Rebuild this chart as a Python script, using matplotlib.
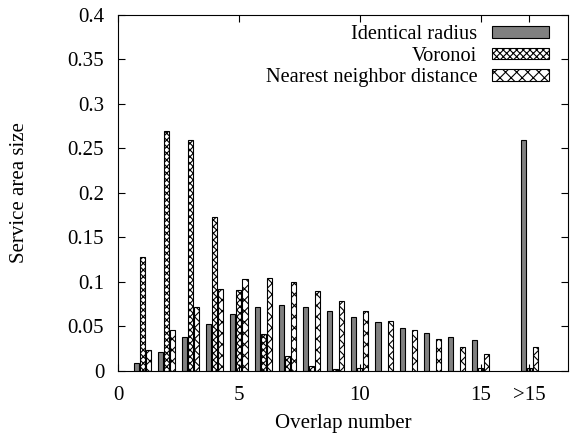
import numpy as np
from matplotlib import pyplot as plt

plt.rcParams['font.family'] = ['Liberation Serif', 'DejaVu Serif']
plt.rcParams['hatch.linewidth'] = 0.8

# overlap number groups (">15" drawn at position 17)
positions = [1, 2, 3, 4, 5, 6, 7, 8, 9, 10, 11, 12, 13, 14, 15, 17]
tick_pos = [0, 5, 10, 15, 17]
tick_labels = ['0', '5', '10', '15', '>15']

identical = [0.0086, 0.0217, 0.038, 0.0528, 0.0644, 0.0716, 0.0738, 0.0716,
             0.0678, 0.061, 0.055, 0.0483, 0.0423, 0.0382, 0.0345, 0.259]
voronoi = [0.128, 0.27, 0.26, 0.1727, 0.091, 0.0416, 0.0169, 0.006,
           0.0026, 0.003, 0.0, 0.0, 0.0, 0.0, 0.003, 0.003]
nearest = [0.024, 0.046, 0.0723, 0.0925, 0.103, 0.105, 0.0996, 0.0895,
           0.0783, 0.067, 0.0565, 0.0457, 0.0356, 0.0273, 0.019, 0.0266]

fig = plt.figure(figsize=(5.73, 4.38), dpi=100)
ax = fig.add_axes([0.206, 0.153, 0.785, 0.813])

x = np.array(positions, dtype=float)
w = 0.21
ax.bar(x - 0.25, identical, w, color='#808080', edgecolor='black', linewidth=0.8,
       label='Identical radius')
ax.bar(x, voronoi, w, color='white', edgecolor='black', linewidth=0.8,
       hatch='xxxxx', label='Voronoi')
ax.bar(x + 0.25, nearest, w, color='white', edgecolor='black', linewidth=0.8,
       hatch='xxx', label='Nearest neighbor distance')

ax.set_xlim(0, 18.6)
ax.set_ylim(0, 0.4)
ax.set_xticks(tick_pos)
ax.set_xticklabels(tick_labels)
ax.set_yticks(np.arange(0, 0.41, 0.05))
ax.set_yticklabels(['0', '0.05', '0.1', '0.15', '0.2', '0.25', '0.3', '0.35', '0.4'])
ax.tick_params(direction='in', top=True, right=True, length=5, width=0.8,
               labelsize=15)
ax.tick_params(axis='y', pad=10)
ax.tick_params(axis='x', pad=11)
for s in ax.spines.values():
    s.set_linewidth(0.8)

ax.set_xlabel('Overlap number', fontsize=15, labelpad=6)
ax.set_ylabel('Service area size', fontsize=15, labelpad=28)

ax.legend(loc='upper right', bbox_to_anchor=(1 - 7 / 450, 1 + 2 / 356),
          frameon=False, markerfirst=False, fontsize=14.7,
          handlelength=2.75, handleheight=0.5, labelspacing=0.12,
          handletextpad=0.75, borderaxespad=0.4, borderpad=0.2)

plt.savefig('out.png', dpi=100)
